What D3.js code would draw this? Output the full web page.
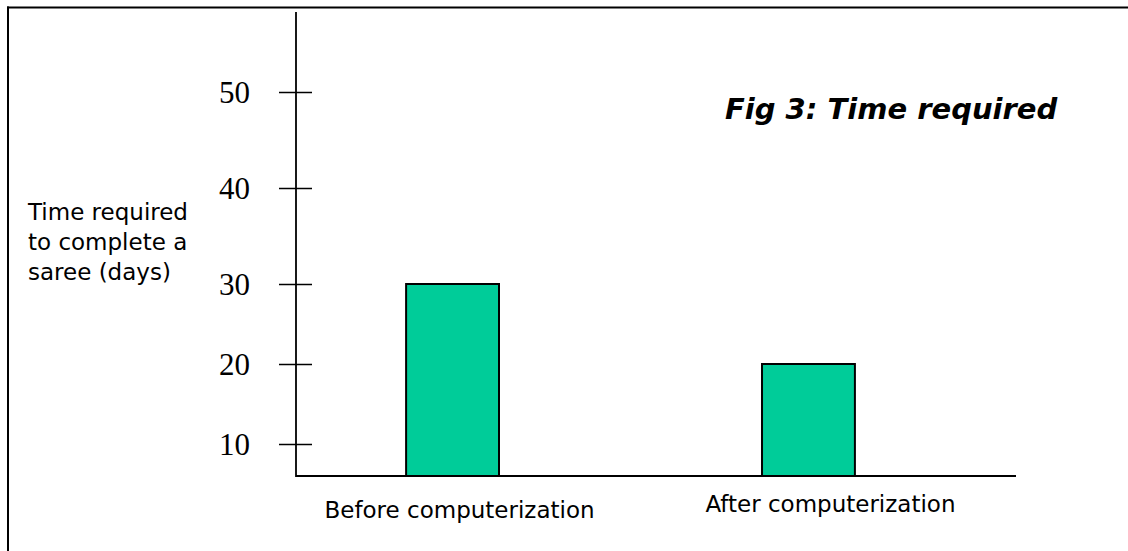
<!DOCTYPE html>
<html>
<head>
<meta charset="utf-8">
<script src="https://cdn.jsdelivr.net/npm/d3@7"></script>
<style>
  html, body { margin: 0; padding: 0; background: #fff; overflow: hidden; }
  svg { display: block; overflow: hidden; }
</style>
</head>
<body>
<svg id="chart" width="1128" height="551"></svg>
<script>
// ---- data ----
const categories = ["Before computerization", "After computerization"];
const values = [30, 20];
const tickValues = [10, 20, 30, 40, 50];
const yLabelLines = ["Time required", "to complete a", "saree (days)"];
const titleText = "Fig 3: Time required";

// ---- layout ----
const axisX = 296, axisTop = 12, axisBottom = 476, axisRight = 1016;
// reference axis has uneven tick spacing: piecewise linear scale
const tickPositions = [444, 364, 284, 188, 92];
const labelNudge = [{dx: 7, dy: 6}, {dx: 22, dy: 0}];

const svg = d3.select("#chart");

// frame (only left and top edges are visible in the reference)
svg.append("line")
  .attr("x1", 8).attr("x2", 8).attr("y1", 6.5).attr("y2", 551)
  .attr("stroke", "#000").attr("stroke-width", 2);
svg.append("line")
  .attr("x1", 7).attr("x2", 1128).attr("y1", 7.5).attr("y2", 7.5)
  .attr("stroke", "#000").attr("stroke-width", 2);

const y = d3.scaleLinear().domain(tickValues).range(tickPositions);
const x = d3.scaleBand().domain(categories)
  .range([axisX, axisRight]).paddingInner(0.739).paddingOuter(0.381).align(0.406);

// bars
svg.selectAll("rect.bar").data(values).join("rect")
  .attr("class", "bar")
  .attr("x", (d, i) => x(categories[i]))
  .attr("width", x.bandwidth())
  .attr("y", d => y(d))
  .attr("height", d => axisBottom - y(d))
  .attr("fill", "#00CC99")
  .attr("stroke", "#000").attr("stroke-width", 2);

// x axis line
svg.append("line")
  .attr("x1", axisX).attr("x2", axisRight)
  .attr("y1", axisBottom).attr("y2", axisBottom)
  .attr("stroke", "#000").attr("stroke-width", 1.8);

// y axis
const yAxis = d3.axisLeft(y).tickValues(tickValues).tickSize(17).tickPadding(29);
const gy = svg.append("g").attr("transform", `translate(${axisX},0)`).call(yAxis);
gy.select(".domain").remove();
gy.selectAll(".tick line").attr("x1", 16).attr("x2", -17)
  .attr("stroke", "#000").attr("stroke-width", 1.7);
gy.selectAll(".tick text")
  .attr("font-family", "'Liberation Serif', 'Times New Roman', serif")
  .attr("font-size", 31).attr("fill", "#000").attr("dy", "0.34em");
svg.append("line")
  .attr("x1", axisX).attr("x2", axisX)
  .attr("y1", axisTop).attr("y2", axisBottom + 1)
  .attr("stroke", "#000").attr("stroke-width", 1.8);

// y label
const yl = svg.append("text")
  .attr("font-family", "'DejaVu Sans', Verdana, sans-serif")
  .attr("font-size", 23).attr("fill", "#000");
yl.selectAll("tspan").data(yLabelLines).join("tspan")
  .attr("x", 28).attr("y", (d, i) => 220 + i * 30).text(d => d);

// category labels
svg.selectAll("text.cat").data(categories).join("text")
  .attr("class", "cat")
  .attr("x", (d, i) => x(d) + x.bandwidth() / 2 + labelNudge[i].dx)
  .attr("y", (d, i) => 512 + labelNudge[i].dy)
  .attr("text-anchor", "middle")
  .attr("font-family", "'DejaVu Sans', Verdana, sans-serif")
  .attr("font-size", 23).attr("fill", "#000")
  .text(d => d);

// title
svg.append("text")
  .attr("x", 725).attr("y", 119)
  .attr("font-family", "'DejaVu Sans', Verdana, sans-serif")
  .attr("font-weight", "bold").attr("font-style", "italic")
  .attr("font-size", 29).attr("fill", "#000")
  .text(titleText);
</script>
</body>
</html>
